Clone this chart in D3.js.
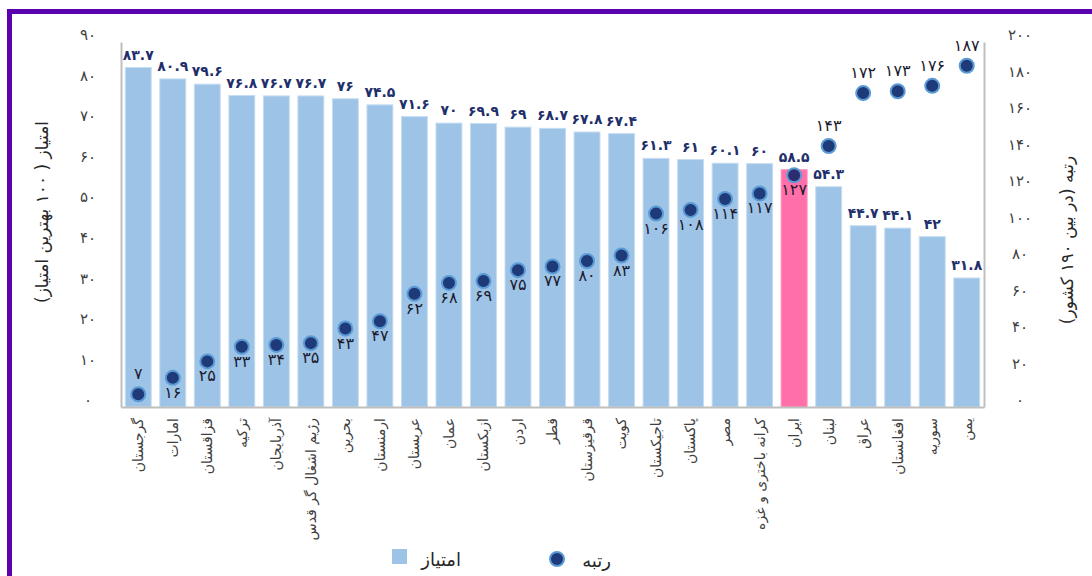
<!DOCTYPE html>
<html>
<head>
<meta charset="utf-8">
<script src="https://cdn.jsdelivr.net/npm/d3@7"></script>
<style>
  body { margin: 0; background: #fff; }
  svg { display: block; font-family: "DejaVu Sans", sans-serif; }
</style>
</head>
<body>
<div id="chart"></div>
<script>
// countries, left to right
const countries = [
  "گرجستان", "امارات", "قزاقستان", "ترکیه", "آذربایجان",
  "رژیم اشغال گر قدس", "بحرین", "ارمنستان", "عربستان", "عمان",
  "ازبکستان", "اردن", "قطر", "قرقیزستان", "کویت",
  "تاجیکستان", "پاکستان", "مصر", "کرانه باختری و غزه", "ایران",
  "لبنان", "عراق", "افغانستان", "سوریه", "یمن"
];
// score (out of 100)
const scores = [
  83.7, 80.9, 79.6, 76.8, 76.7, 76.7, 76, 74.5, 71.6, 70,
  69.9, 69, 68.7, 67.8, 67.4, 61.3, 61, 60.1, 60, 58.5,
  54.3, 44.7, 44.1, 42, 31.8
];
// rank among 190 countries
const ranks = [
  7, 16, 25, 33, 34, 35, 43, 47, 62, 68,
  69, 75, 77, 80, 83, 106, 108, 114, 117, 127,
  143, 172, 173, 176, 187
];
const scoreTicks = [0, 10, 20, 30, 40, 50, 60, 70, 80, 90];
const rankTicks = [0, 20, 40, 60, 80, 100, 120, 140, 160, 180, 200];
const highlight = "ایران";

const W = 1092, H = 576;
const plot = { left: 121, right: 984, top: 42, bottom: 407 };

const fa = v => String(v).replace(/\d/g, d => "۰۱۲۳۴۵۶۷۸۹"[d]);

const svg = d3.select("#chart").append("svg")
  .attr("width", W).attr("height", H);

// purple frame (top + left)
svg.append("rect").attr("x", 7).attr("y", 9).attr("width", W - 7).attr("height", 5).attr("fill", "#5a00ae");
svg.append("rect").attr("x", 7).attr("y", 9).attr("width", 5).attr("height", H - 9).attr("fill", "#5a00ae");

const x = d3.scaleBand().domain(countries)
  .range([plot.left, plot.right]).paddingInner(0.25).paddingOuter(0.125);
const yL = d3.scaleLinear().domain([0, 90]).range([plot.bottom, plot.top]);
const yR = d3.scaleLinear().domain([0, 200]).range([plot.bottom, plot.top]);

const data = countries.map((c, i) => ({ c, s: scores[i], r: ranks[i], i }));

// bars
svg.append("g").selectAll("rect").data(data).join("rect")
  .attr("x", d => x(d.c))
  .attr("y", d => yL(d.s))
  .attr("width", x.bandwidth())
  .attr("height", d => yL(0) - yL(d.s))
  .attr("fill", d => d.c === highlight ? "#ff6fa8" : "#9dc3e6")
  .attr("stroke", d => d.c === highlight ? "#ff8cbb" : "#c4dcf1")
  .attr("stroke-width", 1);

// axes
const axL = svg.append("g").attr("transform", `translate(${plot.left},0)`)
  .call(d3.axisLeft(yL).tickValues(scoreTicks).tickSize(0).tickSizeOuter(0).tickFormat(fa));
axL.selectAll("text").attr("x", -33).attr("dy", "-0.15em").attr("text-anchor", "middle");

const axR = svg.append("g").attr("transform", `translate(${plot.right},0)`)
  .call(d3.axisRight(yR).tickValues(rankTicks).tickSize(0).tickSizeOuter(0).tickFormat(fa));
axR.selectAll("text").attr("x", 36).attr("dy", "-0.15em").attr("text-anchor", "middle");

const axB = svg.append("g").attr("transform", `translate(0,${plot.bottom})`)
  .call(d3.axisBottom(x).tickSize(0).tickSizeOuter(0));

[axL, axR, axB].forEach(a => {
  a.select(".domain").attr("stroke", "#bfbfbf").attr("stroke-width", 2);
  a.selectAll("text").attr("fill", "#404040").style("font-size", "15px")
    .style("font-family", "'DejaVu Sans', sans-serif");
});
axB.selectAll("text")
  .attr("transform", "rotate(-90)")
  .attr("x", -11).attr("y", 0).attr("dy", "0.35em")
  .attr("text-anchor", "end")
  .style("font-size", "14px");

// score labels
svg.append("g").selectAll("text").data(data).join("text")
  .attr("x", d => x(d.c) + x.bandwidth() / 2)
  .attr("y", d => yL(d.s) - 8)
  .attr("text-anchor", "middle")
  .attr("fill", "#1f2f6b")
  .style("font-size", "14px").style("font-weight", "bold")
  .text(d => fa(d.s));

// rank dots
svg.append("g").selectAll("circle").data(data).join("circle")
  .attr("cx", d => x(d.c) + x.bandwidth() / 2)
  .attr("cy", d => yR(d.r))
  .attr("r", 7)
  .attr("fill", d => d.c === highlight ? "#2a2e6e" : "#1f3a78")
  .attr("stroke", "#5b9bd5").attr("stroke-width", 2);

// rank labels
svg.append("g").selectAll("text").data(data).join("text")
  .attr("x", d => x(d.c) + x.bandwidth() / 2)
  .attr("y", d => (d.i === 0 || d.r > 140) ? yR(d.r) - 15 : yR(d.r) + 20)
  .attr("text-anchor", "middle")
  .attr("fill", "#1a1a2e")
  .style("font-size", "16px")
  .text(d => fa(d.r));

// axis titles
svg.append("text")
  .attr("transform", "translate(48,212) rotate(-90)")
  .attr("text-anchor", "middle").attr("fill", "#262626")
  .style("font-size", "17px")
  .text("امتیاز ( ۱۰۰ بهترین امتیاز)");
svg.append("text")
  .attr("transform", "translate(1073,240) rotate(-90)")
  .attr("text-anchor", "middle").attr("fill", "#262626")
  .style("font-size", "17px")
  .text("رتبه (در بین ۱۹۰ کشور)");

// legend
const lg = svg.append("g");
lg.append("rect").attr("x", 392).attr("y", 549).attr("width", 15).attr("height", 15).attr("fill", "#9dc3e6");
lg.append("text").attr("x", 461).attr("y", 566).attr("text-anchor", "end")
  .attr("fill", "#262626").style("font-size", "18px").text("امتیاز");
lg.append("circle").attr("cx", 557).attr("cy", 559).attr("r", 7)
  .attr("fill", "#1f3a78").attr("stroke", "#5b9bd5").attr("stroke-width", 2);
lg.append("text").attr("x", 611).attr("y", 567).attr("text-anchor", "end")
  .attr("fill", "#262626").style("font-size", "18px").text("رتبه");
</script>
</body>
</html>
